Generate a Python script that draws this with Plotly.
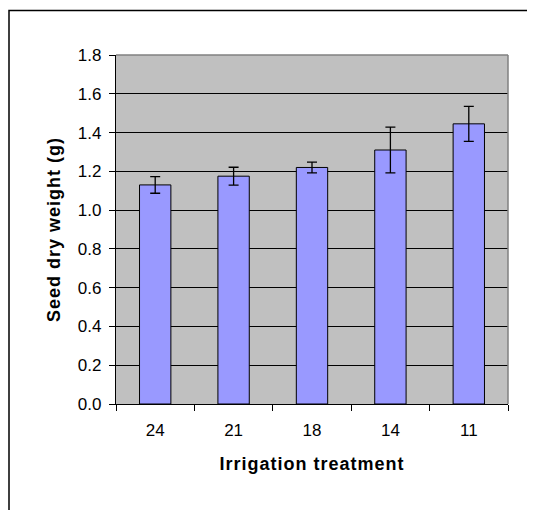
import plotly.graph_objects as go

# -----------------------------------------------------
# DATA
# -----------------------------------------------------

treatments = ["24", "21", "18", "14", "11"]
seed_weight = [1.13, 1.175, 1.22, 1.31, 1.445]
seed_error = [0.043, 0.046, 0.028, 0.118, 0.09]
y_ticks = [0.0, 0.2, 0.4, 0.6, 0.8, 1.0, 1.2, 1.4, 1.6, 1.8]

font_family = "Liberation Sans, Arial, sans-serif"

# plot area in figure pixels
L, R, T, B = 108, 35, 47, 114
W, H = 535, 510
plot_w = W - L - R
plot_h = H - T - B

spaced = "<span style='letter-spacing:1px'><b>{}</b></span>"

# -----------------------------------------------------
# FIGURE
# -----------------------------------------------------

fig = go.Figure()

fig.add_trace(go.Bar(
    x=treatments,
    y=seed_weight,
    marker=dict(color="#9999FF", line=dict(color="black", width=1)),
    error_y=dict(type="data", array=seed_error, color="black",
                 thickness=1.3, width=5),
    width=0.4,
))

fig.update_layout(
    width=W,
    height=H,
    paper_bgcolor="white",
    plot_bgcolor="#C0C0C0",
    showlegend=False,
    margin=dict(l=L, r=R, t=T, b=B),
    font=dict(family=font_family, size=17, color="black"),
    xaxis=dict(
        type="category",
        tickson="boundaries",
        ticks="outside",
        ticklen=6,
        tickcolor="black",
        showline=True,
        linecolor="black",
        linewidth=1.3,
        showgrid=False,
        tickfont=dict(size=17),
        ticklabelstandoff=10,
        title=dict(text=spaced.format("Irrigation treatment"),
                   font=dict(size=18), standoff=18),
    ),
    yaxis=dict(
        range=[0, 1.8],
        tickvals=y_ticks,
        tickformat=".1f",
        ticks="outside",
        ticklen=6,
        tickcolor="black",
        showline=True,
        linecolor="black",
        linewidth=1.3,
        showgrid=True,
        gridcolor="black",
        gridwidth=1.3,
        zeroline=False,
        tickfont=dict(size=17),
        ticklabelstandoff=4,
        title=dict(text=spaced.format("Seed dry weight (g)"),
                   font=dict(size=18), standoff=12),
    ),
)

# gray top/right border of the plot area
fig.add_shape(type="line", xref="paper", yref="paper", x0=0, x1=1, y0=1, y1=1,
              line=dict(color="#808080", width=1.5))
fig.add_shape(type="line", xref="paper", yref="paper", x0=1, x1=1, y0=0, y1=1,
              line=dict(color="#808080", width=1.5))

# outer chart frame (runs off the right and bottom edge)
fig.add_shape(type="rect", xref="paper", yref="paper",
              x0=(1 - L) / plot_w, x1=1.2,
              y0=-0.5, y1=(plot_h + T - 2.5) / plot_h,
              line=dict(color="black", width=1.5), layer="below")

fig.write_html("out.html")
